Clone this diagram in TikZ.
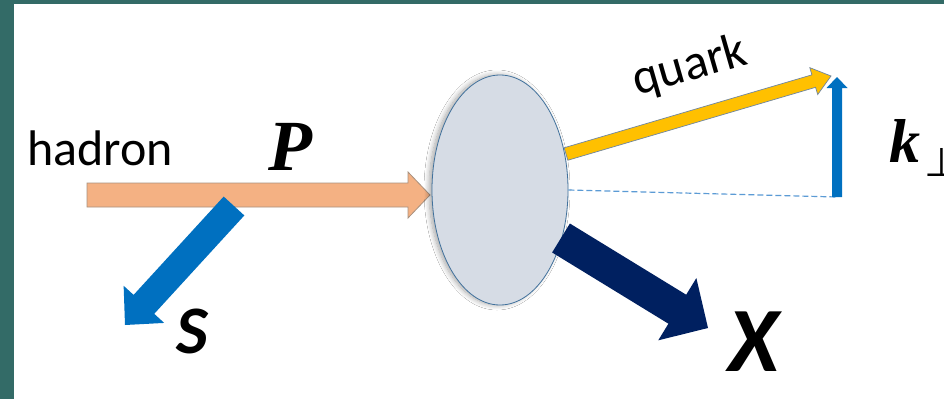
\documentclass[tikz,border=0pt]{standalone}
\usepackage{fontspec}
\setmainfont{Carlito}
\newfontfamily\serifbi[BoldItalicFont={Liberation Serif Bold Italic}]{Liberation Serif}
\newfontfamily\symfont{DejaVu Sans}
\usetikzlibrary{calc,shapes.geometric,shadows.blur}

\definecolor{framecol}{HTML}{336B67}
\definecolor{hadroncol}{HTML}{F4B183}
\definecolor{hadronline}{HTML}{A8917F}
\definecolor{spincol}{HTML}{0070C0}
\definecolor{quarkcol}{HTML}{FFC000}
\definecolor{quarkline}{HTML}{6F86A0}
\definecolor{blobfill}{HTML}{D6DCE5}
\definecolor{blobline}{HTML}{41719C}
\definecolor{xcol}{HTML}{002060}
\definecolor{dashcol}{HTML}{5B9BD5}

% block arrow: #1 tail, #2 tip, #3 body width, #4 head width, #5 head length, #6 style
\newcommand\blockarrow[6]{%
  \coordinate (ba-base) at ($(#2)!#5!(#1)$);
  \filldraw[#6]
    ($(#1)!{#3/2}!90:(#2)$) -- ($(ba-base)!{#3/2}!90:(#2)$) --
    ($(ba-base)!{#4/2}!90:(#2)$) -- (#2) --
    ($(ba-base)!{#4/2}!-90:(#2)$) -- ($(ba-base)!{#3/2}!-90:(#2)$) --
    ($(#1)!{#3/2}!-90:(#2)$) -- cycle;
}

\tikzset{
  lbl/.style={inner sep=0pt, text=black},
  blob/.style={ellipse, draw=blobline, line width=0.8pt, fill=blobfill,
    minimum width=136pt, minimum height=230pt, inner sep=0pt,
    blur shadow={shadow xshift=-3pt, shadow yshift=0pt, shadow blur radius=5pt,
      shadow blur steps=10, shadow opacity=35}},
}

\begin{document}
\begin{tikzpicture}[x=1pt, y=-1pt]
  \useasboundingbox (0,0) rectangle (944,399);
  \clip (0,0) rectangle (944,399);
  % frame and white panel
  \fill[framecol] (0,0) rectangle (944,399);
  \fill[white] (14,4) rectangle (950,405);

  % anchor points of the arrows
  \coordinate (hadronTail) at (87,195);
  \coordinate (hadronTip) at (430,195);
  \coordinate (spinTail) at (234,206);
  \coordinate (spinTip) at (125,325);
  \coordinate (quarkTail) at (566,154);
  \coordinate (quarkTip) at (831,76);
  \coordinate (kTail) at (837,197);
  \coordinate (kTip) at (837,77);
  \coordinate (xTail) at (561,238);
  \coordinate (xTip) at (708,328);

  % incoming hadron and its spin
  \blockarrow{hadronTail}{hadronTip}{24pt}{46pt}{22pt}{fill=hadroncol, draw=hadronline, line width=0.8pt}
  \blockarrow{spinTail}{spinTip}{28pt}{55pt}{28pt}{fill=spincol, draw=none}

  % the scattering blob
  \node[blob] (blob) at (500,190) {};

  % transverse reference line
  \draw[dashcol, line width=1.2pt, dash pattern=on 6pt off 3pt] (blob.east) -- (kTail);

  % outgoing quark, remnant X and transverse momentum
  \blockarrow{quarkTail}{quarkTip}{13pt}{28pt}{18pt}{fill=quarkcol, draw=quarkline, line width=0.7pt}
  \blockarrow{xTail}{xTip}{34pt}{73pt}{36pt}{fill=xcol, draw=none}
  \blockarrow{kTail}{kTip}{10pt}{21pt}{11pt}{fill=spincol, draw=none}

  % labels
  \node[lbl, anchor=base west] (hadronlbl) at (27,165) {\fontsize{50}{58}\selectfont hadron};
  \node[lbl, anchor=base] (plbl) at (290,170) {\serifbi\bfseries\itshape\fontsize{72}{80}\selectfont P};
  \node[lbl, anchor=base] (slbl) at (192,353) {\bfseries\itshape\fontsize{68}{76}\selectfont S};
  \node[lbl, anchor=base] (xlbl) at (754,371) {\bfseries\itshape\fontsize{92}{100}\selectfont X};
  \node[lbl, anchor=center, rotate=16] (quarklbl) at (690,67) {\fontsize{50}{58}\selectfont quark};
  \node[lbl, anchor=base west] (klbl) at (889,162) {\serifbi\bfseries\itshape\fontsize{62}{70}\selectfont k};
  \node[lbl, anchor=base west] (perplbl) at (924,176) {\symfont\fontsize{40}{44}\selectfont ⊥};
\end{tikzpicture}
\end{document}
